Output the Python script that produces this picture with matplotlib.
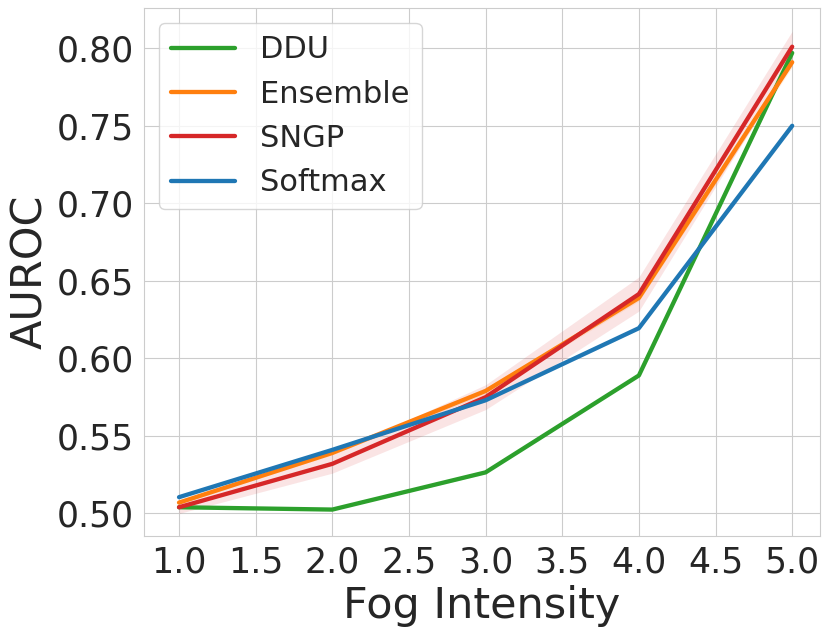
import matplotlib
matplotlib.use("Agg")
import matplotlib.pyplot as plt
import seaborn as sns
import numpy as np

fog = [1.0, 2.0, 3.0, 4.0, 5.0]

ddu = [0.504, 0.5025, 0.5265, 0.589, 0.797]
ddu_std = [0.0005, 0.0005, 0.001, 0.001, 0.002]

ensemble = [0.507, 0.539, 0.579, 0.639, 0.791]
ensemble_std = [0.001, 0.001, 0.002, 0.002, 0.003]

sngp = [0.504, 0.532, 0.575, 0.6415, 0.801]
sngp_std = [0.004, 0.006, 0.008, 0.011, 0.010]

softmax = [0.5105, 0.541, 0.573, 0.6195, 0.750]
softmax_std = [0.0005, 0.0005, 0.001, 0.001, 0.001]

series = [
    ("DDU", ddu, ddu_std, "#2ca02c"),
    ("Ensemble", ensemble, ensemble_std, "#ff7f0e"),
    ("SNGP", sngp, sngp_std, "#d62728"),
    ("Softmax", softmax, softmax_std, "#1f77b4"),
]

sns.set_style("whitegrid")
plt.rcParams["font.family"] = ["DejaVu Sans"]

fig = plt.figure(figsize=(8.31, 6.35), dpi=100)
ax = fig.add_axes([0.173, 0.156, 0.8135, 0.8315])

for name, vals, std, color in series:
    m = np.array(vals)
    s = np.array(std)
    ax.plot(fog, m, color=color, lw=3.1, label=name)
    ax.fill_between(fog, m - s, m + s, color=color, alpha=0.12, lw=0)

ax.set_xticks([1.0, 1.5, 2.0, 2.5, 3.0, 3.5, 4.0, 4.5, 5.0])
ax.set_yticks([0.50, 0.55, 0.60, 0.65, 0.70, 0.75, 0.80])
ax.set_xlim(0.77, 5.18)
ax.set_ylim(0.4855, 0.826)
ax.tick_params(labelsize=25)
ax.set_xlabel("Fog Intensity", fontsize=31)
ax.set_ylabel("AUROC", fontsize=31)

leg = ax.legend(loc="upper left", fontsize=22, handlelength=2.1, frameon=True)

fig.savefig("out.png", dpi=100)
